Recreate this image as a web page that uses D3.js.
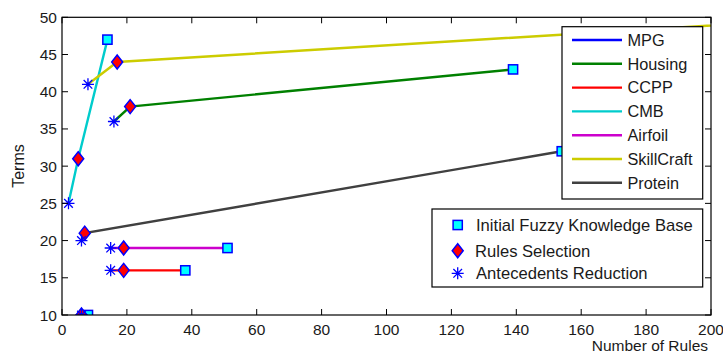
<!DOCTYPE html>
<html><head><meta charset="utf-8">
<script src="https://cdn.jsdelivr.net/npm/d3@7"></script>
<style>body{margin:0;background:#fff}svg{display:block;font-family:"Liberation Sans",Arial,sans-serif}</style>
</head><body><svg id="c" width="723" height="354"></svg>
<script>
const datasets = ["MPG","Housing","CCPP","CMB","Airfoil","SkillCraft","Protein"];
const colors = ["#0000ff","#008000","#ff0000","#00cccc","#cc00cc","#cccc00","#404040"];
// [rules, terms] for each stage
const initialKB = [[8,10],[139,43],[38,16],[14,47],[51,19],[241,50],[154,32]];
const rulesSel  = [[6,10],[21,38],[19,16],[5,31],[19,19],[17,44],[7,21]];
const antRed    = [[6,10],[16,36],[15,16],[2,25],[15,19],[8,41],[6,20]];
const xTicks = [0,20,40,60,80,100,120,140,160,180,200];
const yTicks = [10,15,20,25,30,35,40,45,50];
const markerLabels = ["Initial Fuzzy Knowledge Base","Rules Selection","Antecedents Reduction"];

const svg = d3.select("#c");
const L=62,R=711,T=17.3,B=315;
const x = d3.scaleLinear().domain([0,200]).range([L,R]);
const y = d3.scaleLinear().domain([10,50]).range([B,T]);
const txt="#1a1a1a";

svg.append("defs").append("clipPath").attr("id","clip").append("rect")
  .attr("x",L).attr("y",T).attr("width",R-L).attr("height",B-T);

const plot = svg.append("g").attr("clip-path","url(#clip)");

datasets.forEach((d,i)=>{
  const pts=[antRed[i],rulesSel[i],initialKB[i]];
  plot.append("path").attr("d",d3.line().x(p=>x(p[0])).y(p=>y(p[1]))(pts))
    .attr("fill","none").attr("stroke",colors[i]).attr("stroke-width",2.4);
});

function square(g,cx,cy){g.append("rect").attr("x",cx-4.6).attr("y",cy-4.6).attr("width",9.2).attr("height",9.2)
  .attr("fill","#00ffff").attr("stroke","#0000ff").attr("stroke-width",1.5);}
function diamond(g,cx,cy){g.append("path").attr("d",`M${cx},${cy-7}L${cx+5.5},${cy}L${cx},${cy+7}L${cx-5.5},${cy}Z`)
  .attr("fill","#ff0000").attr("stroke","#0000ff").attr("stroke-width",1.5);}
function star(g,cx,cy){const r=6,d=r*0.72;
  g.append("path").attr("d",`M${cx-r},${cy}H${cx+r}M${cx},${cy-r}V${cy+r}M${cx-d},${cy-d}L${cx+d},${cy+d}M${cx-d},${cy+d}L${cx+d},${cy-d}`)
  .attr("stroke","#0000ff").attr("stroke-width",1.3).attr("fill","none");}

datasets.forEach((d,i)=>{
  square(plot,x(initialKB[i][0]),y(initialKB[i][1]));
  diamond(plot,x(rulesSel[i][0]),y(rulesSel[i][1]));
  star(plot,x(antRed[i][0]),y(antRed[i][1]));
});

const ax = svg.append("g");
ax.append("rect").attr("x",L).attr("y",T).attr("width",R-L).attr("height",B-T)
  .attr("fill","none").attr("stroke","#000").attr("stroke-width",1.2);
const tl=6;
xTicks.forEach(t=>{
  ax.append("line").attr("x1",x(t)).attr("x2",x(t)).attr("y1",B).attr("y2",B-tl).attr("stroke","#000");
  ax.append("line").attr("x1",x(t)).attr("x2",x(t)).attr("y1",T).attr("y2",T+tl).attr("stroke","#000");
  ax.append("text").attr("x",x(t)).attr("y",334.5).attr("text-anchor","middle").attr("font-size",15.5).attr("fill",txt).text(t);
});
yTicks.forEach(t=>{
  ax.append("line").attr("x1",L).attr("x2",L+tl).attr("y1",y(t)).attr("y2",y(t)).attr("stroke","#000");
  ax.append("line").attr("x1",R).attr("x2",R-tl).attr("y1",y(t)).attr("y2",y(t)).attr("stroke","#000");
  ax.append("text").attr("x",57).attr("y",y(t)+5.5).attr("text-anchor","end").attr("font-size",15.5).attr("fill",txt).text(t);
});
svg.append("text").attr("x",708).attr("y",350.5).attr("text-anchor","end").attr("font-size",15.5).attr("fill",txt).text("Number of Rules");
svg.append("text").attr("transform","translate(24,166) rotate(-90)").attr("text-anchor","middle").attr("font-size",16).attr("fill",txt).text("Terms");

const lg1=svg.append("g");
lg1.append("rect").attr("x",562).attr("y",26.7).attr("width",140.7).attr("height",172.3).attr("fill","#fff").attr("stroke","#000").attr("stroke-width",1.2);
datasets.forEach((d,i)=>{
  const yy=40+i*23.8;
  lg1.append("line").attr("x1",572).attr("x2",622).attr("y1",yy).attr("y2",yy).attr("stroke",colors[i]).attr("stroke-width",2.4);
  lg1.append("text").attr("x",627.5).attr("y",yy+5.8).attr("font-size",16.3).attr("fill",txt).text(d);
});

const lg2=svg.append("g");
lg2.append("rect").attr("x",432).attr("y",209).attr("width",270.7).attr("height",78).attr("fill","#fff").attr("stroke","#000").attr("stroke-width",1.2);
const ly=[225,250.7,273.3];
square(lg2,457.7,ly[0]); diamond(lg2,457.7,ly[1]); star(lg2,457.7,ly[2]);
markerLabels.forEach((m,i)=>{
  lg2.append("text").attr("x",i==1?475:476).attr("y",ly[i]+5.8).attr("font-size",16.6).attr("fill",txt).text(m);
});
</script></body></html>
